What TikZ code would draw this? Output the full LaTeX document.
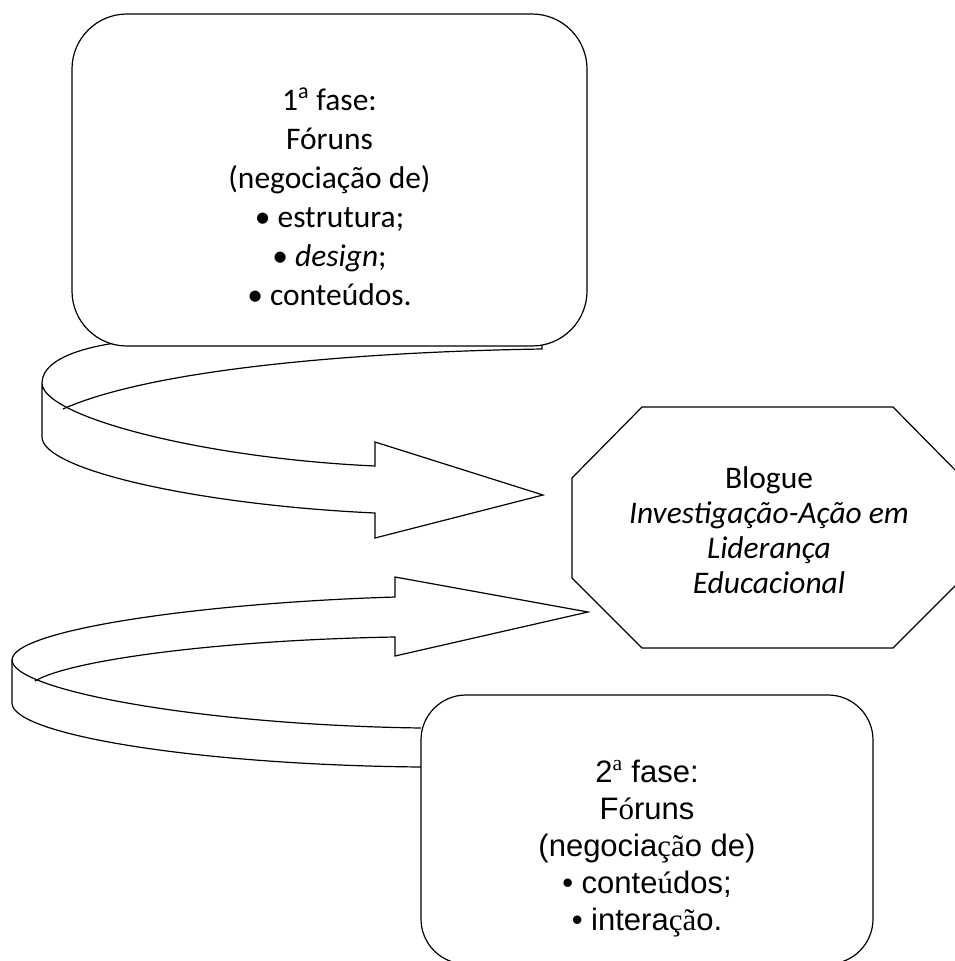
\documentclass[tikz,border=0pt]{standalone}
\usepackage{fontspec}
\setmainfont{Carlito}
\newfontfamily\arialfont{Liberation Sans}
\newfontfamily\serifglyph{Liberation Serif}
\newcommand{\boxfont}   {\fontsize{23.6}{29.25}\selectfont}
\newcommand{\blogfont}  {\fontsize{23.6}{26.25}\selectfont}
\newcommand{\arialbox}  {\arialfont\fontsize{23.25}{27.75}\selectfont}
\newcommand{\tnr}[1]    {{\serifglyph #1}}

\tikzset{
  phasebox/.style={draw, fill=white, line width=0.9pt, inner sep=0pt},
  ribbon/.style={line width=0.9pt, line join=miter},
}

\begin{document}
\begin{tikzpicture}[x=0.75pt,y=-0.75pt] % pixel units, y downwards
   \useasboundingbox (0,0) rectangle (955,961);
   % curved arrow, 1st phase -> blog
   \draw[ribbon] (542,344) .. controls (450,342) and (350,338) .. (192,338)
         .. controls (100,338) and (42,355) .. (42,383) -- (42,437)
         .. controls (42,470) and (200,505) .. (375,513) -- (375,538) -- (543,495)
         -- (375,442) -- (375,466) .. controls (200,458) and (42,416) .. (42,383);
   \draw[ribbon] (63,409) .. controls (150,370) and (350,352) .. (542,349) -- (542,344);
   % curved arrow, 2nd phase -> blog
   \draw[ribbon] (421,767) .. controls (200,765) and (12,735) .. (12,703) -- (12,660)
         .. controls (12,630) and (200,603) .. (395,597) -- (395,577) -- (588,612)
         -- (395,656) -- (395,637) .. controls (220,640) and (70,660) .. (35,681);
   \draw[ribbon] (12,660) .. controls (12,690) and (200,725) .. (421,728);
   % the two phases
   \node[phasebox, rounded corners=41.25pt, minimum width=386.25pt, minimum height=249pt]
         (fase1) at (329.5,180) {};
   \node[phasebox, rounded corners=33.75pt, minimum width=339pt, minimum height=201.75pt]
         (fase2) at (647,829.5) {};
   \node[font=\boxfont, align=center] (fase1txt) at ([yshift=-12.75pt]fase1.center)
         {1\textsuperscript{a} fase:\\ Fóruns\\ (negociação de)\\ • estrutura;\\
          • \textit{design};\\ • conteúdos.};
   \node[font=\arialbox, align=center] (fase2txt) at ([yshift=-14.5pt]fase2.center)
         {2\textsuperscript{\tnr{a}} fase:\\ F\tnr{ó}runs\\ (negocia\tnr{çã}o de)\\
          • conte\tnr{ú}dos;\\ • intera\tnr{çã}o.};
   % the blog
   \draw[line width=0.9pt, fill=white] (642,407) -- (893,407) -- (963,478) -- (963,578)
         -- (893,648) -- (642,648) -- (572,578) -- (572,478) -- cycle;
   \node[font=\blogfont, align=center] (blogue) at (769,530)
         {Blogue\\ \textit{Investigação-Ação em}\\ \textit{Liderança}\\ \textit{Educacional}};
\end{tikzpicture}
\end{document}
